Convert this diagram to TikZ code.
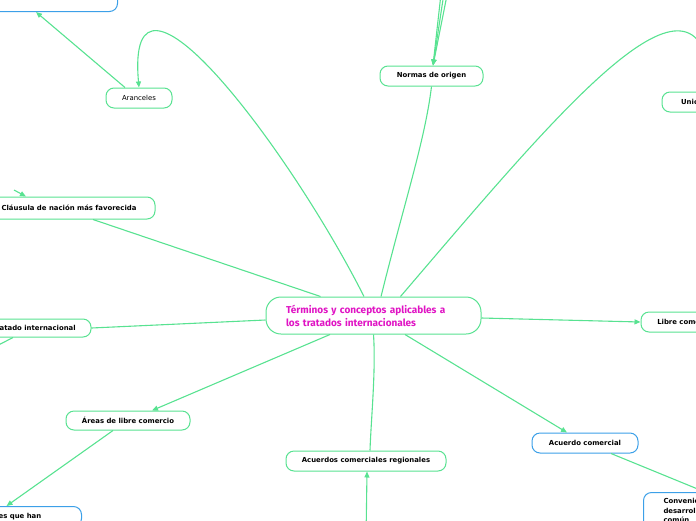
\documentclass[tikz,border=0pt]{standalone}
\usepackage{fontspec}
\setmainfont{DejaVu Sans}
\newfontfamily\titlefont{Fira Sans}
\usetikzlibrary{arrows.meta, positioning, shapes}

\definecolor{mapgreen}{RGB}{88,226,145}
\definecolor{mapblue}{RGB}{60,160,232}
\definecolor{mapmagenta}{RGB}{224,20,196}

\tikzset{
    topic/.style={draw=mapgreen, line width=1pt, rounded corners=8pt, fill=white,
        minimum height=20pt, inner sep=0pt, font=\fontsize{6.9}{8}\selectfont\bfseries},
    plaintopic/.style={topic, font=\fontsize{6.9}{8}\selectfont},
    bluetopic/.style={topic, draw=mapblue},
    link/.style={draw=mapgreen, line width=1.1pt},
    linkto/.style={link, -{Triangle[length=6pt,width=5pt]}},
}

\begin{document}
\begin{tikzpicture}[x=1pt, y=-1pt]
    \useasboundingbox (0,0) rectangle (696,520);

    % Central topic
    \node[draw=mapgreen, line width=1pt, rounded corners=15pt, fill=white,
        text width=175pt, inner xsep=20pt, inner ysep=0pt, minimum height=37pt,
        align=left, text=mapmagenta, font=\titlefont\bfseries\fontsize{10}{13}\selectfont]
        (central) at (373.5,315.5) {Términos y conceptos aplicables a\\los tratados internacionales};

    % Topics
    \node[topic, minimum width=103pt] (normas) at (431.5,76) {Normas de origen};
    \node[plaintopic, minimum width=66pt] (aranceles) at (139,98) {Aranceles};
    \node[topic, minimum width=172pt, minimum height=22pt] (clausula) at (69,208) {Cláusula de nación más favorecida};
    \node[topic, minimum width=114pt, minimum height=18pt] (tratado) at (34,328) {Tratado internacional};
    \node[topic, minimum width=124pt, minimum height=19pt] (areas) at (128,420.5) {Áreas de libre comercio};
    \node[topic, minimum width=160pt] (regionales) at (366,461) {Acuerdos comerciales regionales};
    \node[bluetopic, minimum width=106pt] (acuerdo) at (585,443) {Acuerdo comercial};
    \node[topic, minimum width=90pt] (libre) at (686,322) {Libre comercio};
    \node[topic, minimum width=100pt] (union) at (712,102) {Unión aduanera};
    \node[bluetopic, anchor=north west, text width=60pt, inner xsep=20pt, inner ysep=6pt,
        align=left, font=\fontsize{6.9}{9.5}\selectfont\bfseries] (convenio) at (643,492)
        {Convenios de\\desarrollo\\común};
    \node[bluetopic, anchor=south east, minimum width=180pt, minimum height=40pt] (arancelbox) at (118,12) {};
    \node[bluetopic, anchor=north east, minimum width=139pt] (paises) at (82,506) {Países que han};

    % Free ends
    \coordinate (o1) at (447,-60);
    \coordinate (o2) at (452,-60);
    \coordinate (o3) at (458,-60);
    \coordinate (o4) at (14,190);
    \coordinate (o5) at (-15,352);
    \coordinate (o6) at (366,540);

    % Connectors
    \draw[linkto] ([xshift=-9.5pt]central.north) .. controls (290,150) and (125,-70) .. (aranceles.north);
    \draw[linkto] ([xshift=-14pt]aranceles.north) -- ([xshift=-82pt]arancelbox.south east);
    \draw[link] ([xshift=7.5pt]central.north) .. controls (405,200) and (425,140) .. (normas.south);
    \foreach \o in {o1,o2,o3}
        \draw[linkto] (\o) -- ([xshift=1.5pt]normas.north);
    \draw[linkto] ([xshift=27pt]central.north) .. controls (560,110) and (700,-60) .. (union.north);
    \draw[link] ([xshift=-53pt]central.north) -- ([xshift=24pt]clausula.south);
    \draw[linkto] (o4) -- ([xshift=-43pt]clausula.north);
    \draw[link] ([yshift=-4.5pt]central.west) -- (tratado.east);
    \draw[link] ([xshift=-21pt]tratado.south) -- (o5);
    \draw[linkto] ([xshift=-43.5pt]central.south) -- ([xshift=24pt]areas.north);
    \draw[linkto] ([xshift=-15pt]areas.south) -- ([xshift=-5.5pt]paises.north);
    \draw[link] (central.south) .. controls (376,370) and (371,420) .. ([xshift=4pt]regionales.north);
    \draw[linkto] (o6) -- ([xshift=1pt]regionales.south);
    \draw[linkto] ([xshift=31.5pt]central.south) -- ([xshift=-18pt]acuerdo.north);
    \draw[linkto] ([xshift=26pt]acuerdo.south) -- ([xshift=62pt]convenio.north west);
    \draw[linkto] ([yshift=-2.5pt]central.east) -- (libre.west);
\end{tikzpicture}
\end{document}
